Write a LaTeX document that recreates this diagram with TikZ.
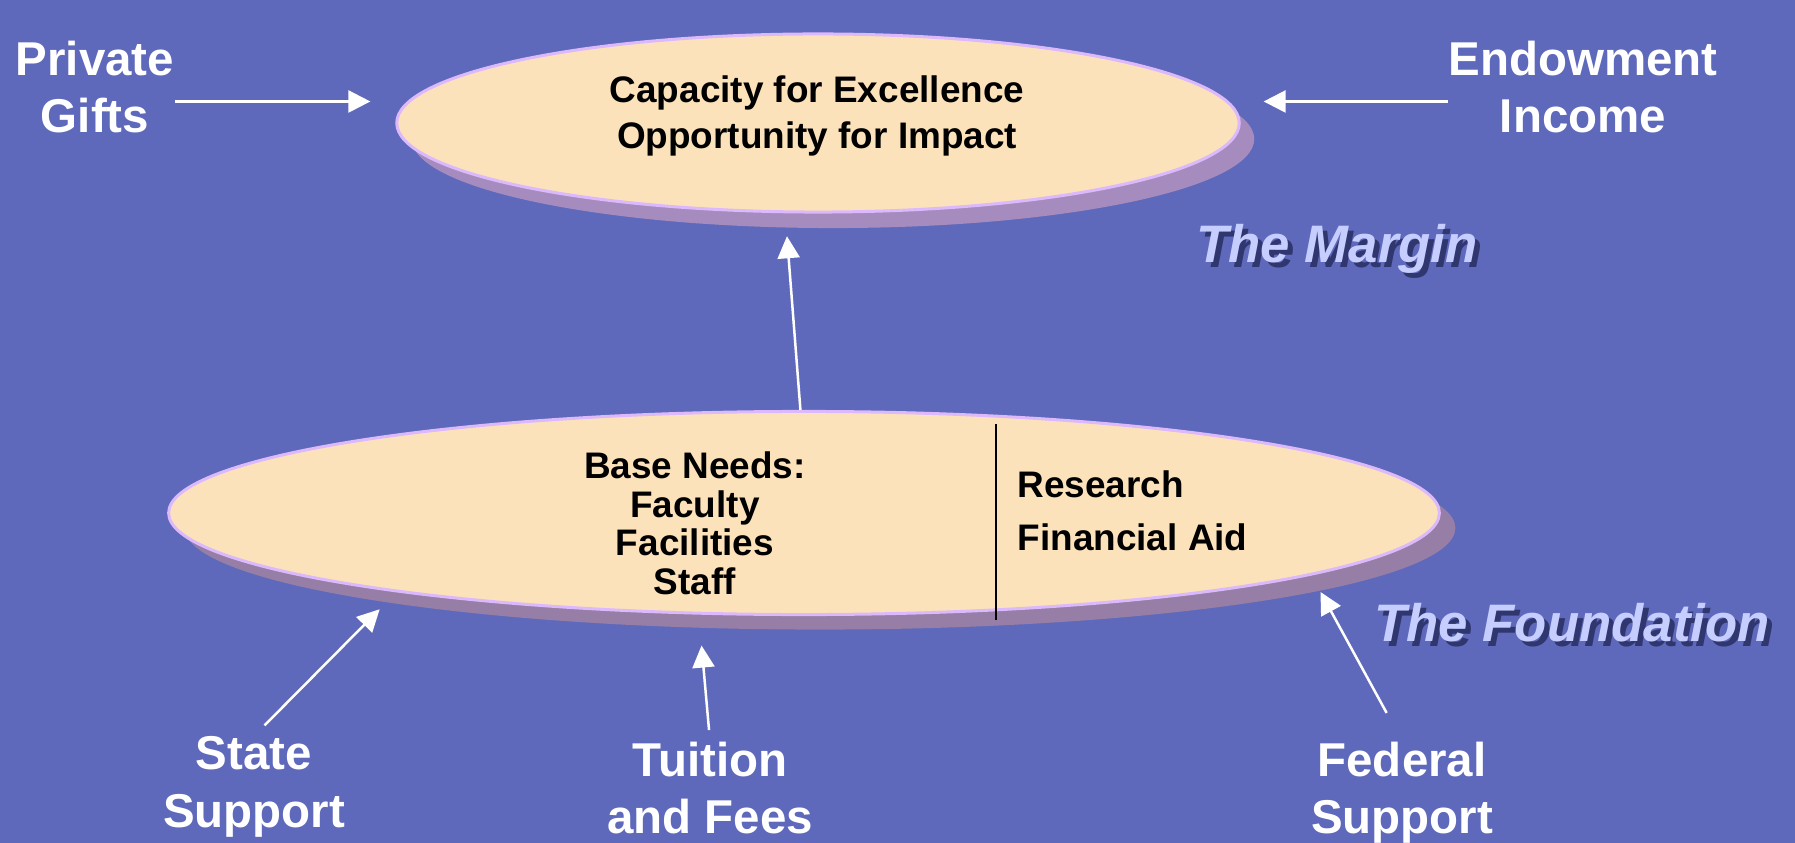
\documentclass[tikz,border=0pt]{standalone}
\usepackage{fontspec}
\setmainfont{Liberation Sans}
\usetikzlibrary{shapes.geometric,arrows.meta,shadows}
\definecolor{bgblue}{RGB}{94,105,187}
\definecolor{eggfill}{RGB}{252,226,186}
\definecolor{eggline}{RGB}{220,184,252}
\definecolor{topshade}{RGB}{166,140,190}
\definecolor{baseshade}{RGB}{150,126,166}
\definecolor{titlefill}{RGB}{198,206,255}
\definecolor{titleshade}{RGB}{48,54,110}

\begin{document}
\begin{tikzpicture}[x=0.01cm,y=-0.01cm,
  egg/.style={ellipse,draw=eggline,line width=0.3mm,fill=eggfill,inner sep=0pt},
  source/.style={text=white,font=\fontsize{13.5}{16.3}\selectfont\bfseries,align=center,inner sep=0pt,anchor=north},
  inside/.style={font=\fontsize{10.5}{13.1}\selectfont\bfseries,align=center,inner sep=0pt,anchor=north},
  flow/.style={draw=white,line width=0.25mm,-{Triangle[length=2.2mm,width=2.2mm]}},
  heading/.style={font=\fontsize{15}{18}\selectfont\bfseries\itshape,inner sep=0pt,anchor=base}]

% Drawing background
\fill[bgblue] (0,0) rectangle (1795,843);
\useasboundingbox (0,0) rectangle (1795,843);

% Drawing the two ellipses
\node[egg,minimum width=8.42cm,minimum height=1.78cm,
  drop shadow={shadow xshift=1.5mm,shadow yshift=-1.6mm,fill=topshade,opacity=1}] (top) at (818,123) {};
\node[egg,minimum width=12.70cm,minimum height=2.03cm,
  drop shadow={shadow xshift=1.6mm,shadow yshift=-1.5mm,fill=baseshade,opacity=1}] (base) at (804,513) {};

% Texts inside
\node[inside] (capacity) at (817,75) {Capacity for Excellence\\Opportunity for Impact};
\node[inside,font=\fontsize{10.5}{11}\selectfont\bfseries] (needs) at (695,451) {Base Needs:\\Faculty\\Facilities\\Staff};
\node[inside,anchor=north west,align=left,font=\fontsize{10.5}{15.1}\selectfont\bfseries] (extras) at (1017,470) {Research\\Financial Aid};
\draw[line width=0.2mm] (996,424) -- (996,620);

% Sources
\node[source] (private) at (95,40) {Private\\Gifts};
\node[source] (endowment) at (1583,40) {Endowment\\Income};
\node[source] (state) at (254,736) {State\\Support};
\node[source] (tuition) at (710,741) {Tuition\\and Fees};
\node[source] (federal) at (1402,741) {Federal\\Support};

% Drawing arrows
\draw[flow,shorten >=3.7mm] (private.east |- top.177) -- (top.177);
\draw[flow,shorten >=3.5mm] (endowment.west |- top.3) -- (top.3);
\draw[flow,shorten >=2.3mm] (base.92) -- (top.250);
\draw[flow,shorten <=1.5mm,shorten >=2.4mm] (state.north) -- (base.191);
\draw[flow,shorten <=1.1mm,shorten >=3.1mm] (tuition.north) -- (base.224);
\draw[flow,shorten <=3.2mm,shorten >=1.9mm] (federal.north) -- (base.353);

% Headings
\node[heading,text=titleshade] (margin shade) at (1342,268) {The Margin};
\node[heading,text=titlefill] (margin) at ([xshift=-0.05cm,yshift=0.05cm]margin shade.base) {The Margin};
\node[heading,text=titleshade] (foundation shade) at (1577,646) {The Foundation};
\node[heading,text=titlefill] (foundation) at ([xshift=-0.05cm,yshift=0.05cm]foundation shade.base) {The Foundation};
\end{tikzpicture}
\end{document}
